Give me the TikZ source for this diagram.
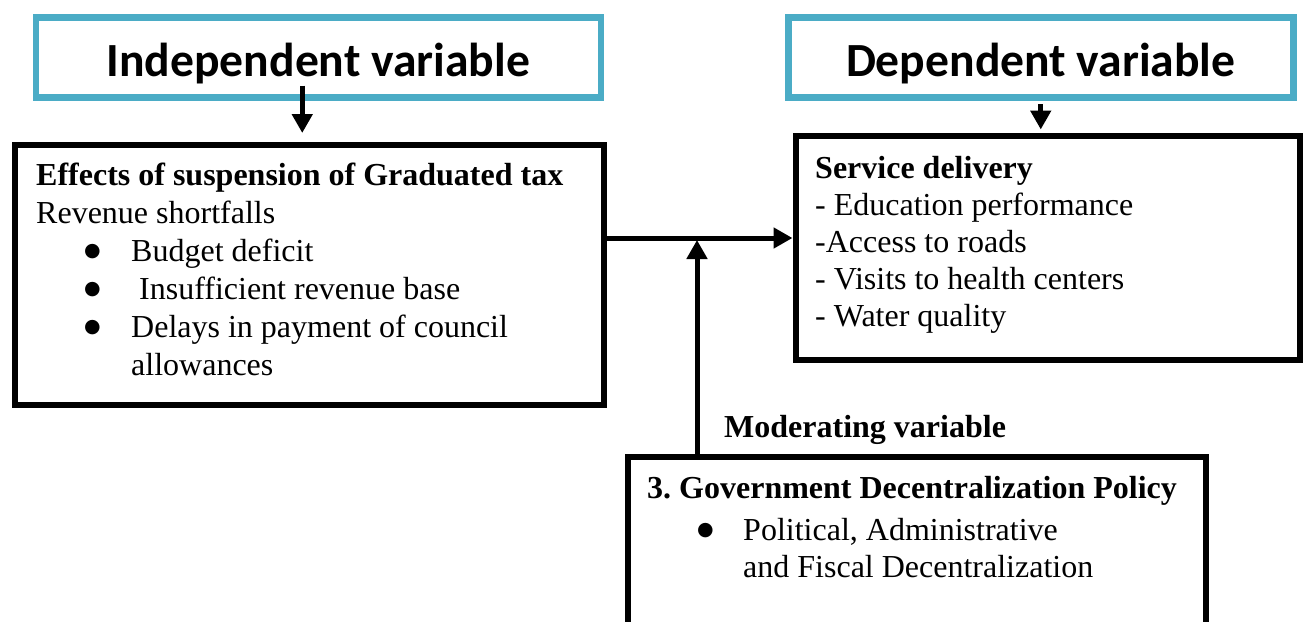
\documentclass[tikz,border=0pt]{standalone}
\usepackage{fontspec}
\setmainfont{Liberation Serif}
\newfontfamily\headfont{Carlito}
\newfontfamily\dotfont{DejaVu Sans}
\usetikzlibrary{positioning}
\usetikzlibrary{arrows.meta}

\definecolor{headcyan}{HTML}{4BACC6}
\tikzset{
	varbox/.style={draw=headcyan, line width=6.5pt, minimum width=#1, minimum height=80pt, inner sep=0pt, anchor=north west, text height=38pt, text depth=0pt, font=\headfont\bfseries\fontsize{47.6}{50}\selectfont},
	factorbox/.style={draw, line width=6pt, anchor=north west, inner sep=0pt},
	factortext/.style={anchor=north west, inner sep=0pt, align=left, font=\fontsize{32}{38}\selectfont},
	flow/.style={line width=5pt, -{Triangle[length=19pt,width=20pt]}}
}
\newcommand{\bul}[1]{\makebox[#1][l]{\raisebox{5pt}{\dotfont\fontsize{19}{19}\selectfont ●}}}
\frenchspacing

\begin{document}
\begin{tikzpicture}[x=1pt,y=-1pt]
		\useasboundingbox (0,0) rectangle (1303,621);
		\clip (0,0) rectangle (1303,621);
		% variable headers
		\node [varbox=565pt] (IV) at (32.5,14) {Independent variable};
		\node [varbox=505pt] (DV) at (785,14) {Dependent variable};
		% boxes
		\node [factorbox, minimum width=589pt, minimum height=260pt] (EF) at (12,142) {};
		\node [factortext] (EFT) at (36,159) {\strut\textbf{Effects of suspension of Graduated tax}\\
			Revenue shortfalls\\
			\hspace*{48pt}\bul{47pt}Budget deficit\\
			\hspace*{48pt}\bul{47pt}\ Insufficient revenue base\\
			\hspace*{48pt}\bul{47pt}Delays in payment of council\\
			\hspace*{95pt}allowances};
		\node [factorbox, minimum width=504.5pt, minimum height=224pt] (SD) at (792.5,132.5) {};
		\node [factortext, font=\fontsize{32}{36.8}\selectfont] (SDT) at (815,153) {\strut\textbf{Service delivery}\\
			- Education performance\\
			-Access to roads\\
			- Visits to health centers\\
			- Water quality};
		\node [factorbox, minimum width=578pt, minimum height=220pt] (GP) at (625,454) {};
		\node [factortext, font=\fontsize{32}{37}\selectfont] (GPT) at (647,472) {\strut\textbf{3. Government Decentralization Policy}\\[5pt]
			\hspace*{50pt}\bul{46pt}Political, Administrative\\
			\hspace*{96pt}and Fiscal Decentralization};
		\node [anchor=base west, inner sep=0pt, font=\bfseries\fontsize{32}{37.5}\selectfont] (ML) at (724,437) {Moderating variable};
		% arrows
		\draw [flow] ([xshift=-16pt,yshift=15pt]IV.south) -- ([xshift=-16pt,yshift=9pt]IV.south |- EF.north);
		\draw [flow] ([yshift=-3.5pt]DV.south) -- ([yshift=3pt]DV.south |- SD.north);
		\draw [flow] ([yshift=37pt]EF.east) coordinate (J) -- (J -| SD.west);
		\draw [flow] ([xshift=-220pt]GP.north) -- ([xshift=-220pt,yshift=-2pt]GP.north |- J);
	\end{tikzpicture}
\end{document}
